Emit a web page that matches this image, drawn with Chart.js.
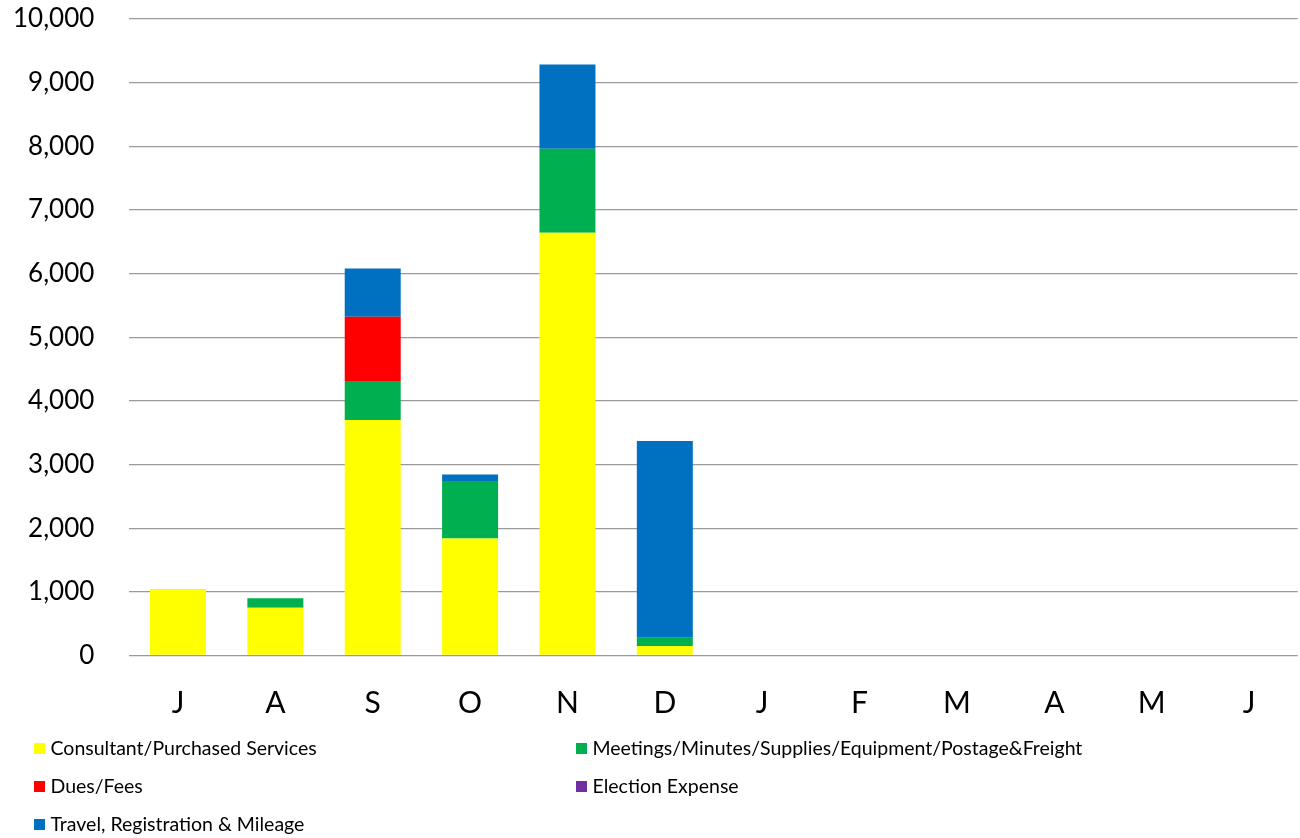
<!DOCTYPE html>
<html>
<head>
<meta charset="utf-8">
<script src="https://cdn.jsdelivr.net/npm/chart.js@4.4.1/dist/chart.umd.min.js"></script>
<style>
  html, body { margin: 0; padding: 0; background: #ffffff; }
  #wrap { width: 1300px; height: 838px; position: relative; }
</style>
</head>
<body>
<div id="wrap"><canvas id="c" width="1300" height="838"></canvas></div>
<script>
// Fiscal-year months, July through June
const months = ['J', 'A', 'S', 'O', 'N', 'D', 'J', 'F', 'M', 'A', 'M', 'J'];

// Monthly spending by category (dollars)
const consultantServices = [1045, 750, 3700, 1840, 6640, 150, null, null, null, null, null, null];
const meetingsSupplies   = [0, 148, 612, 900, 1320, 130, null, null, null, null, null, null];
const duesFees           = [0, 0, 1010, 0, 0, 0, null, null, null, null, null, null];
const electionExpense    = [0, 0, 0, 0, 0, 0, null, null, null, null, null, null];
const travelMileage      = [0, 0, 760, 105, 1325, 3090, null, null, null, null, null, null];

// Value axis ticks
const yTicks = [0, 1000, 2000, 3000, 4000, 5000, 6000, 7000, 8000, 9000, 10000];

const FONT = 'Lato, "Open Sans", sans-serif';

const datasets = [
  { label: 'Consultant/Purchased Services', data: consultantServices, backgroundColor: '#FFFF00' },
  { label: 'Meetings/Minutes/Supplies/Equipment/Postage&Freight', data: meetingsSupplies, backgroundColor: '#00B050' },
  { label: 'Dues/Fees', data: duesFees, backgroundColor: '#FF0000' },
  { label: 'Election Expense', data: electionExpense, backgroundColor: '#7030A0' },
  { label: 'Travel, Registration & Mileage', data: travelMileage, backgroundColor: '#0070C0' }
].map(d => Object.assign(d, {
  stack: 'spend',
  categoryPercentage: 1.0,
  barPercentage: 0.575,
  borderWidth: 0
}));

// Two-column legend drawn under the month labels
const columnLegend = {
  id: 'columnLegend',
  afterDraw(chart) {
    const ctx = chart.ctx;
    const cols = [34, 576];
    const rows = [748.5, 786.5, 824.5];
    ctx.save();
    ctx.font = '19.5px ' + FONT;
    ctx.textBaseline = 'middle';
    ctx.textAlign = 'left';
    chart.data.datasets.forEach((ds, i) => {
      const x = cols[i % 2];
      const y = rows[Math.floor(i / 2)];
      ctx.fillStyle = ds.backgroundColor;
      ctx.fillRect(x, y - 5.5, 11, 11);
      ctx.fillStyle = '#000000';
      ctx.fillText(ds.label, x + 16.5, y);
    });
    ctx.restore();
  }
};

new Chart(document.getElementById('c'), {
  type: 'bar',
  data: { labels: months, datasets: datasets },
  options: {
    responsive: false,
    animation: false,
    layout: { padding: { left: 0, right: 2.3, top: 19, bottom: 112.5 } },
    plugins: {
      legend: { display: false },
      tooltip: { enabled: false }
    },
    scales: {
      x: {
        stacked: true,
        grid: { display: false, drawTicks: false },
        border: { display: false },
        ticks: {
          color: '#000000',
          font: { family: FONT, size: 30 },
          padding: 30,
          maxRotation: 0,
          autoSkip: false
        },
        afterFit(scale) { scale.height = 70; }
      },
      y: {
        stacked: true,
        min: 0,
        max: 10000,
        grid: { color: '#9a9a9a', lineWidth: 1.3, drawTicks: false },
        border: { display: false },
        afterBuildTicks(scale) { scale.ticks = yTicks.map(v => ({ value: v })); },
        ticks: {
          color: '#000000',
          font: { family: FONT, size: 26 },
          padding: 35,
          callback: v => v.toLocaleString('en-US')
        },
        afterFit(scale) {
          scale.width = 129.3;
          scale.paddingTop = 0;
          scale.paddingBottom = 0;
        }
      }
    }
  },
  plugins: [columnLegend]
});
</script>
</body>
</html>
